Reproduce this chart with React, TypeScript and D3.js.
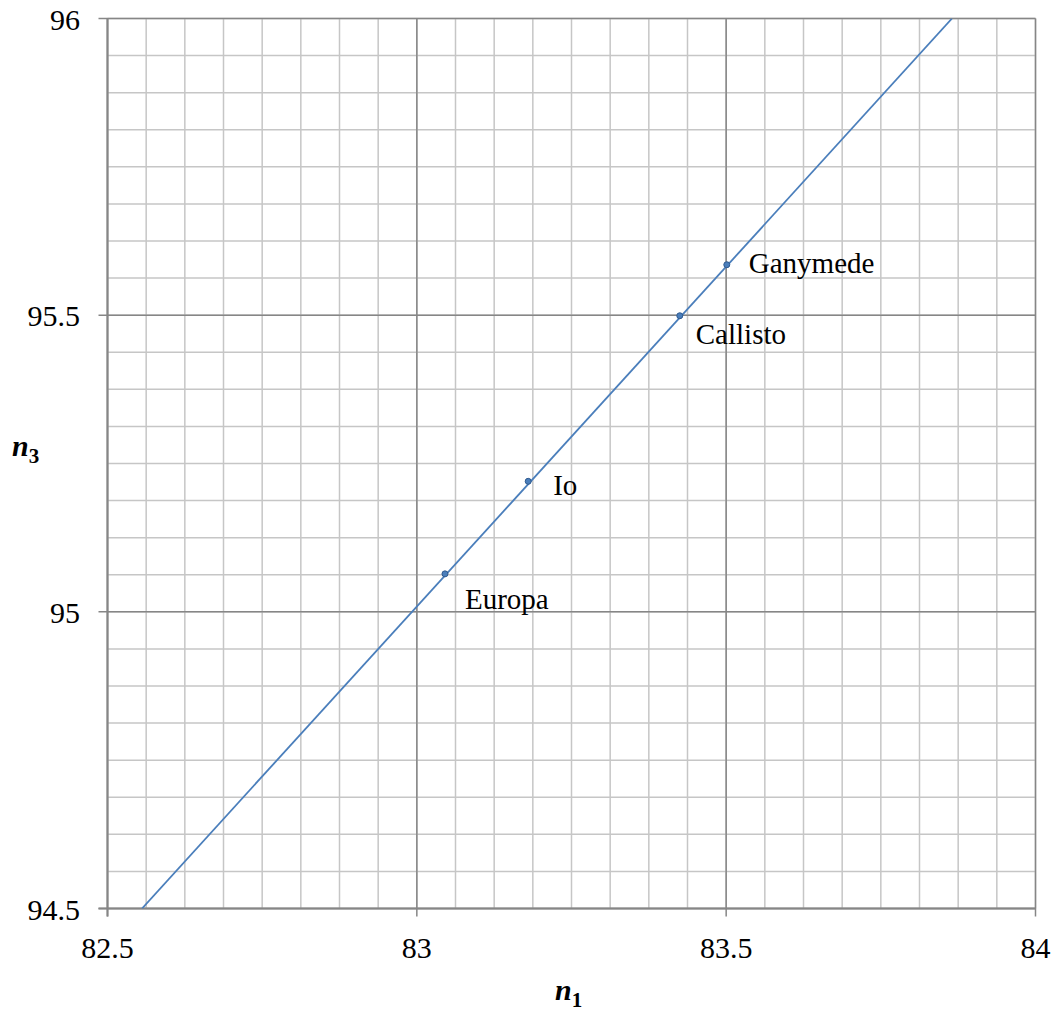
import React from 'react';
import * as d3 from 'd3';

const width = 1059;
const height = 1013;

// moons (n1, n3)
const moonNames = ['Europa', 'Io', 'Callisto', 'Ganymede'];
const moonN1 = [83.0455, 83.18, 83.425, 83.501];
const moonN3 = [95.064, 95.22, 95.499, 95.585];
// label offsets in px from the point (dx, dy of baseline)
const labelDx = [20, 25, 16, 22];
const labelDy = [35, 14, 28, 8];

// trend line end points
const lineN1 = [82.5558, 83.865];
const lineN3 = [94.5, 96];

const xTicks = [82.5, 83, 83.5, 84];
const yTicks = [94.5, 95, 95.5, 96];
const minorStep = 0.0625;

const margin = { left: 107.5, top: 18.5, right: 1035.5, bottom: 908.5 };

const App = () => {
  const x = d3.scaleLinear().domain([82.5, 84]).range([margin.left, margin.right]);
  const y = d3.scaleLinear().domain([94.5, 96]).range([margin.bottom, margin.top]);

  const xMinor = d3.range(82.5, 84 + 1e-9, minorStep);
  const yMinor = d3.range(94.5, 96 + 1e-9, minorStep);

  const line = d3
    .line<number>()
    .x((d) => x(lineN1[d]))
    .y((d) => y(lineN3[d]));

  const font = '"Liberation Serif", "Times New Roman", serif';

  return (
    <svg width={width} height={height} style={{ position: 'absolute', left: 0, top: 0 }}>
      <rect width={width} height={height} fill="#fff" />
      <defs>
        <clipPath id="plot">
          <rect x={margin.left} y={margin.top} width={margin.right - margin.left} height={margin.bottom - margin.top} />
        </clipPath>
      </defs>
      {/* minor grid */}
      {xMinor.map((v, i) => (
        <line key={'xm' + i} x1={x(v)} x2={x(v)} y1={margin.top} y2={margin.bottom} stroke="#c6c6c6" strokeWidth={1.5} />
      ))}
      {yMinor.map((v, i) => (
        <line key={'ym' + i} y1={y(v)} y2={y(v)} x1={margin.left} x2={margin.right} stroke="#c6c6c6" strokeWidth={1.5} />
      ))}
      {/* major grid */}
      {xTicks.map((v) => (
        <line key={'xM' + v} x1={x(v)} x2={x(v)} y1={margin.top} y2={margin.bottom + 8} stroke="#868686" strokeWidth={1.5} />
      ))}
      {yTicks.map((v) => (
        <line key={'yM' + v} y1={y(v)} y2={y(v)} x1={margin.left - 9} x2={margin.right} stroke="#868686" strokeWidth={1.5} />
      ))}
      {/* axes */}
      <line x1={margin.left} x2={margin.left} y1={margin.top} y2={margin.bottom + 8} stroke="#868686" strokeWidth={2} />
      <line x1={margin.left - 9} x2={margin.right} y1={margin.bottom} y2={margin.bottom} stroke="#868686" strokeWidth={2} />

      <path d={line([0, 1]) || ''} fill="none" stroke="#4a7ebb" strokeWidth={1.8} clipPath="url(#plot)" />
      {moonNames.map((name, i) => (
        <g key={name}>
          <circle cx={x(moonN1[i])} cy={y(moonN3[i])} r={3} fill="#4a7ebb" stroke="#2f5a8f" strokeWidth={1} />
          <text x={x(moonN1[i]) + labelDx[i]} y={y(moonN3[i]) + labelDy[i]} fontFamily={font} fontSize={29} fill="#000">
            {name}
          </text>
        </g>
      ))}

      {xTicks.map((v) => (
        <text key={'xl' + v} x={x(v)} y={958} textAnchor="middle" fontFamily={font} fontSize={30}>
          {v}
        </text>
      ))}
      {yTicks.map((v) => (
        <text key={'yl' + v} x={80} y={y(v) + 11} textAnchor="end" fontFamily={font} fontSize={30}>
          {v}
        </text>
      ))}

      <text x={555} y={1000} fontFamily={font} fontSize={30} fontWeight="bold" fontStyle="italic">
        n<tspan fontSize={21} fontStyle="normal" dy={7}>1</tspan>
      </text>
      <text x={12} y={456} fontFamily={font} fontSize={30} fontWeight="bold" fontStyle="italic">
        n<tspan fontSize={21} fontStyle="normal" dy={7}>3</tspan>
      </text>
    </svg>
  );
};

export default App;
